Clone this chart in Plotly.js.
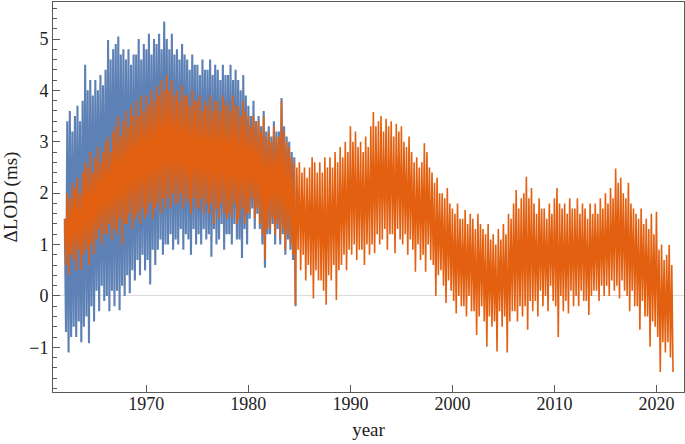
<!DOCTYPE html>
<html>
<head>
<meta charset="utf-8">
<script src="https://cdn.plot.ly/plotly-3.0.1.min.js"></script>
<style>html,body{margin:0;padding:0;background:#fff}#chart{width:685px;height:444px}</style>
</head>
<body>
<div id="chart"></div>
<script>
// Sampling of the series: first sample year and spacing (years)
const startYear = 1962;
const stepYears = 0.125;

// ΔLOD (ms), blue series, 1962 – 1984.6 (8 samples per year)
const blueLOD = [
  1.5, -0.7, 3.4, -1.1, 3.6, -0.8, 3.2, -0.6,
  3.5, -0.8, 3.7, -0.5, 3.4, -0.9, 3.8, -0.6,
  4.5, -0.4, 4.0, -0.92, 4.2, -0.2, 3.9, -0.5,
  4.2, 0.1, 4.0, -0.3, 4.3, 0.2, 4.1, -0.1,
  4.4, 0.0, 4.98, -0.3, 4.6, 0.1, 4.8, -0.2,
  4.9, 0.1, 5.05, -0.28, 4.7, 0.2, 4.8, 0.0,
  4.6, 0.4, 4.8, 0.05, 4.5, 0.5, 4.7, 0.3,
  4.7, 0.7, 5.0, 0.4, 4.6, 0.8, 4.9, 0.5,
  4.8, 0.7, 5.1, 0.22, 4.7, 0.9, 5.0, 0.6,
  4.9, 0.9, 5.1, 1.1, 4.8, 0.8, 5.34, 1.0,
  5.0, 1.0, 4.8, 1.2, 5.1, 0.9, 4.7, 1.1,
  4.8, 1.0, 4.6, 1.3, 4.9, 0.9, 4.7, 1.2,
  4.6, 1.1, 4.4, 0.8, 4.7, 1.3, 4.5, 1.0,
  4.5, 1.2, 4.3, 1.0, 4.6, 1.3, 4.4, 1.1,
  4.4, 1.2, 4.6, 0.76, 4.3, 1.3, 4.5, 1.0,
  4.4, 1.1, 4.2, 1.4, 4.5, 0.9, 4.3, 1.2,
  4.3, 1.2, 4.5, 1.0, 4.2, 1.4, 4.4, 1.1,
  4.2, 1.1, 4.0, 0.74, 4.3, 1.3, 3.9, 1.0,
  3.7, 1.5, 3.5, 1.7, 3.8, 1.3, 3.4, 1.6,
  3.5, 1.3, 3.3, 1.0, 3.6, 0.55, 3.2, 1.2,
  3.3, 1.2, 3.1, 1.4, 3.4, 1.0, 3.2, 1.3,
  3.2, 1.0, 3.85, 1.2, 3.3, 0.8, 3.1, 1.1,
  3.0, 0.9, 2.8, 0.7, 2.7, -0.2
];

// ΔLOD (ms), orange series, 1962 – 2021.6 (8 samples per year)
const orangeLOD = [
  1.5, 0.6, 2.0, 0.4, 1.9, 0.8, 2.2, 0.7,
  2.1, 0.5, 2.3, 0.9, 2.0, 0.5, 2.4, 0.8,
  2.6, 0.9, 2.5, 0.6, 2.8, 1.0, 2.4, 0.8,
  2.7, 1.1, 2.9, 1.3, 2.6, 1.0, 2.8, 1.2,
  3.0, 1.2, 3.1, 1.4, 2.8, 1.1, 3.2, 1.3,
  3.3, 1.2, 3.5, 1.5, 3.1, 1.0, 3.4, 1.4,
  3.6, 1.4, 3.3, 1.6, 3.7, 1.3, 3.5, 1.5,
  3.8, 1.6, 3.5, 1.4, 3.9, 1.7, 3.6, 1.5,
  3.9, 1.6, 3.7, 1.8, 4.0, 1.5, 3.8, 1.7,
  4.1, 1.8, 3.9, 1.6, 4.2, 1.9, 4.0, 1.7,
  4.3, 1.9, 4.0, 1.7, 4.2, 2.0, 3.9, 1.8,
  4.0, 1.8, 3.8, 2.0, 4.1, 1.7, 3.9, 1.9,
  3.9, 1.8, 3.7, 1.6, 4.0, 1.9, 3.8, 1.7,
  3.8, 1.7, 3.9, 1.9, 3.6, 1.6, 3.8, 1.8,
  3.7, 1.6, 3.9, 1.8, 3.6, 1.4, 3.8, 1.7,
  3.8, 1.5, 3.6, 1.8, 3.9, 1.6, 3.7, 1.5,
  3.8, 1.6, 3.6, 1.5, 3.9, 1.8, 3.7, 1.4,
  3.7, 1.5, 3.5, 1.7, 3.8, 1.4, 3.6, 1.6,
  3.5, 1.6, 3.3, 1.9, 3.5, 1.5, 3.4, 1.7,
  3.4, 1.4, 3.2, 1.2, 3.5, 0.7, 3.1, 1.3,
  3.2, 1.3, 3.0, 1.5, 3.3, 1.2, 3.1, 1.4,
  3.1, 1.1, 3.8, 1.3, 3.2, 0.9, 3.0, 1.2,
  2.9, 1.0, 2.7, 0.8, 2.6, -0.17, 2.5, 0.9,
  2.6, 0.5, 2.4, 0.8, 2.5, 0.3, 2.3, 0.6,
  2.5, 0.4, 2.7, -0.05, 2.6, 0.5, 2.4, 0.3,
  2.6, 0.3, 2.4, 0.1, 2.7, -0.17, 2.5, 0.4,
  2.7, 0.3, 2.5, 0.6, 2.8, -0.08, 2.6, 0.5,
  2.9, 0.6, 2.7, 0.8, 3.0, 0.5, 2.8, 0.9,
  3.3, 0.8, 3.0, 1.0, 3.2, 0.7, 2.9, 0.9,
  3.0, 0.9, 2.8, 0.6, 3.1, 1.0, 2.9, 0.8,
  3.3, 1.0, 3.58, 0.83, 3.3, 1.2, 3.4, 1.0,
  3.5, 1.1, 3.2, 1.3, 3.45, 0.9, 3.3, 1.2,
  3.4, 1.2, 3.1, 0.83, 3.35, 1.3, 3.2, 1.1,
  3.3, 1.0, 3.0, 1.2, 2.9, 0.8, 3.1, 1.1,
  2.8, 0.9, 2.6, 0.47, 2.7, 1.0, 2.5, 0.7,
  2.6, 0.8, 2.97, 0.47, 2.8, 1.0, 2.5, 0.7,
  2.4, 0.6, 2.2, 0.0, 2.3, 0.4, 2.0, 0.5,
  2.0, 0.2, 1.9, -0.14, 2.1, 0.3, 1.8, 0.1,
  1.7, -0.1, 1.6, -0.34, 1.8, 0.0, 1.5, -0.2,
  1.5, -0.2, 1.67, -0.4, 1.4, 0.0, 1.6, -0.3,
  1.5, -0.3, 1.3, -0.76, 1.6, -0.4, 1.4, -0.2,
  1.3, -0.5, 1.2, -0.99, 1.4, -0.4, 1.1, -0.6,
  1.2, -0.5, 1.0, -1.08, 1.3, -0.3, 1.1, -0.6,
  1.4, -0.4, 1.2, -1.1, 1.6, -0.5, 1.5, -0.3,
  1.8, -0.3, 2.06, -0.5, 1.7, -0.2, 1.9, -0.4,
  2.0, -0.2, 2.32, -0.66, 1.9, -0.1, 2.1, -0.3,
  1.8, -0.1, 1.6, -0.4, 1.9, 0.1, 1.7, -0.2,
  1.7, 0.0, 1.5, -0.3, 1.8, 0.2, 1.6, -0.1,
  1.9, -0.2, 2.1, -0.8, 1.8, 0.0, 1.7, -0.3,
  1.8, -0.1, 1.6, -0.34, 1.9, 0.1, 1.7, -0.2,
  1.7, 0.0, 1.9, -0.2, 1.6, 0.1, 1.8, -0.1,
  1.7, -0.1, 1.5, -0.37, 1.8, 0.0, 1.6, 0.1,
  1.8, 0.1, 1.6, -0.1, 1.9, 0.2, 1.7, 0.0,
  2.0, 0.2, 1.8, 0.0, 2.1, 0.3, 1.9, 0.1,
  2.48, 0.2, 2.2, -0.05, 2.3, 0.3, 2.0, 0.1,
  1.9, 0.0, 2.2, -0.3, 1.8, 0.1, 1.7, -0.2,
  1.6, -0.2, 1.5, -0.66, 1.7, -0.1, 1.4, -0.4,
  1.5, -0.4, 1.3, -0.99, 1.6, -0.5, 1.2, -0.6,
  1.64, -0.8, 0.9, -1.48, 1.0, -0.9, 0.7, -1.1,
  0.8, -0.9, 0.99, -1.2, 0.6, -1.48
];

const yTickVals = [-1, 0, 1, 2, 3, 4, 5];
const xTickVals = [1970, 1980, 1990, 2000, 2010, 2020];
const xTickText = ['1970', '1980', '1990', '2000', '2010', '2020'];

const yearsFor = arr => arr.map((_, i) => startYear + i * stepYears);

const serif = 'Liberation Serif, Times New Roman, serif';
const frameColor = '#5a5a5a';

const traces = [
  { x: yearsFor(blueLOD), y: blueLOD, type: 'scatter', mode: 'lines',
    line: { color: '#5E81B5', width: 2.1 }, hoverinfo: 'skip', showlegend: false },
  { x: yearsFor(orangeLOD), y: orangeLOD, type: 'scatter', mode: 'lines',
    line: { color: '#E2600F', width: 1.6 }, hoverinfo: 'skip', showlegend: false }
];

const layout = {
  width: 685, height: 444,
  margin: { l: 53, r: 1, t: 2, b: 52 },
  paper_bgcolor: '#fff', plot_bgcolor: '#fff',
  showlegend: false,
  font: { family: serif, size: 18, color: '#222' },
  xaxis: {
    range: [1960.85, 2022.7],
    tickvals: xTickVals, ticktext: xTickText,
    ticks: 'inside', ticklen: 7, tickwidth: 1, tickcolor: frameColor,
    showline: true, mirror: true, linecolor: frameColor, linewidth: 1,
    showgrid: false, zeroline: false,
    tickfont: { family: serif, size: 18, color: '#222' },
    ticklabelstandoff: -5,
    title: { text: 'year', font: { family: serif, size: 19, color: '#222' }, standoff: 10 }
  },
  yaxis: {
    range: [-1.87, 5.72],
    tickvals: yTickVals,
    ticks: 'inside', ticklen: 7, tickwidth: 1, tickcolor: frameColor,
    minor: { ticks: 'inside', ticklen: 4, dtick: 0.2, tick0: 0, tickcolor: frameColor, showgrid: false },
    showline: true, mirror: true, linecolor: frameColor, linewidth: 1,
    showgrid: false,
    zeroline: true, zerolinecolor: '#dcdcdc', zerolinewidth: 1,
    tickfont: { family: serif, size: 18, color: '#222' },
    title: { text: 'ΔLOD (ms)', font: { family: serif, size: 19, color: '#222' }, standoff: 8 }
  }
};

Plotly.newPlot('chart', traces, layout, { staticPlot: true, displayModeBar: false });
</script>
</body>
</html>
